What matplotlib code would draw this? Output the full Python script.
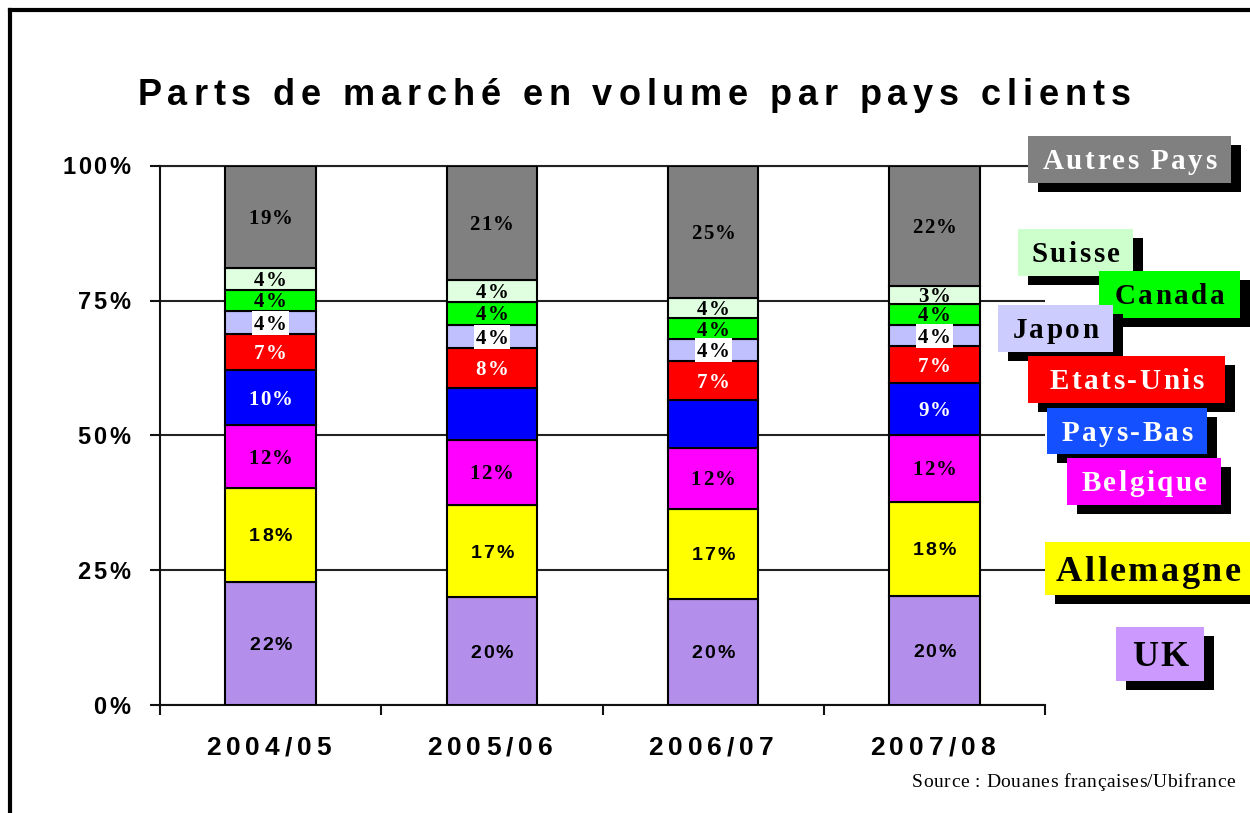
import numpy as np
import matplotlib
matplotlib.use('Agg')
import matplotlib.pyplot as plt
from matplotlib.font_manager import FontProperties
from matplotlib.patches import Rectangle
from matplotlib.lines import Line2D

# data (parts de marche, %)
years = ['2004/05', '2005/06', '2006/07', '2007/08']
uk = [22.8, 20.0, 19.7, 20.2]
allemagne = [17.5, 17.1, 16.7, 17.5]
belgique = [11.6, 12.1, 11.3, 12.4]
pays_bas = [10.3, 9.6, 8.9, 9.6]
etats_unis = [6.6, 7.4, 7.2, 6.9]
japon = [4.3, 4.3, 4.1, 3.9]
canada = [3.9, 4.3, 3.9, 3.9]
suisse = [4.1, 4.0, 3.7, 3.3]
autres = [18.9, 21.2, 24.5, 22.3]

# labels as printed on the bars ('' = no label)
lab_uk = ['22%', '20%', '20%', '20%']
lab_allemagne = ['18%', '17%', '17%', '18%']
lab_belgique = ['12%', '12%', '12%', '12%']
lab_pays_bas = ['10%', '', '', '9%']
lab_etats_unis = ['7%', '8%', '7%', '7%']
lab_japon = ['4%', '4%', '4%', '4%']
lab_canada = ['4%', '4%', '4%', '4%']
lab_suisse = ['4%', '4%', '4%', '3%']
lab_autres = ['19%', '21%', '25%', '22%']

names = ['UK', 'Allemagne', 'Belgique', 'Pays-Bas', 'Etats-Unis', 'Japon', 'Canada', 'Suisse', 'Autres Pays']
series = [uk, allemagne, belgique, pays_bas, etats_unis, japon, canada, suisse, autres]
labels = [lab_uk, lab_allemagne, lab_belgique, lab_pays_bas, lab_etats_unis,
          lab_japon, lab_canada, lab_suisse, lab_autres]
bar_colors = ['#B38FEB', '#FFFF00', '#FF00FF', '#0000FF', '#FF0000', '#C0C0FF', '#00FF00', '#E0FFE0', '#808080']
# (font family, text colour, white background)
lab_style = [('Liberation Sans', 'black', False), ('Liberation Sans', 'black', False),
             ('Liberation Serif', 'black', False), ('Liberation Serif', 'white', False),
             ('Liberation Serif', 'white', False), ('Liberation Serif', 'black', True),
             ('Liberation Serif', 'black', False), ('Liberation Serif', 'black', False),
             ('Liberation Serif', 'black', False)]

W, H = 1250, 813
fig = plt.figure(figsize=(W / 100, H / 100), dpi=100)
fig.patch.set_facecolor('white')
rend = fig.canvas.get_renderer()


def spaced(x, y, s, size, spacing=0.0, width=None, ha='center', family='Liberation Sans',
           weight='bold', color='black', bg=None, zorder=5):
    # x, y in pixels from top-left corner, y is the middle of the capitals
    fp = FontProperties(family=family, weight=weight, size=size)

    def tw(t):
        return rend.get_text_width_height_descent(t, fp, ismath=False)
    ref = tw('I')
    cap = ref[1] - ref[2]
    adv = [tw(s[:i] + 'I')[0] - ref[0] for i in range(len(s) + 1)]
    n = len(s)
    if width is not None and n > 1:
        spacing = (width - adv[-1]) / (n - 1)
    full = adv[-1] + spacing * (n - 1)
    if ha == 'center':
        x0 = x - full / 2
    elif ha == 'right':
        x0 = x - full
    else:
        x0 = x
    base = y + cap / 2
    if bg is not None:
        fig.add_artist(Rectangle(((x0 - 2) / W, 1 - (y + cap / 2 + 5) / H), (full + 4) / W, (cap + 10) / H,
                                 transform=fig.transFigure, facecolor=bg, edgecolor='none', zorder=zorder - 0.5))
    for i, ch in enumerate(s):
        if ch == ' ':
            continue
        fig.text((x0 + adv[i] + i * spacing) / W, 1 - base / H, ch, ha='left', va='baseline',
                 fontproperties=fp, color=color, zorder=zorder)


ax = fig.add_axes([160 / W, 1 - 705 / H, 885 / W, 539 / H])
x = np.arange(len(years))
bottom = np.zeros(len(years))
for vals, col in zip(series, bar_colors):
    ax.bar(x, vals, 0.41, bottom=bottom, color=col, edgecolor='black', linewidth=1.5, zorder=3)
    bottom += np.array(vals)

ax.set_xlim(-0.5, 3.5)
ax.set_ylim(0, 100)
ax.set_yticks([0, 25, 50, 75, 100])
ax.yaxis.grid(True, color='#222222', linewidth=1.5)
ax.axhline(100, color='#222222', linewidth=1.5, clip_on=False, zorder=1)
ax.set_axisbelow(True)
ax.set_xticks([-0.5, 0.5, 1.5, 2.5, 3.5])
ax.tick_params(axis='both', length=7, width=1.5, color='#111111', labelleft=False, labelbottom=False)
for sp in ['top', 'right']:
    ax.spines[sp].set_visible(False)
for sp in ['left', 'bottom']:
    ax.spines[sp].set_linewidth(1.5)
    ax.spines[sp].set_color('#111111')

# labels inside the bars
bottom = np.zeros(len(years))
for vals, labs, (fam, tcol, white) in zip(series, labels, lab_style):
    for i in range(len(years)):
        if labs[i]:
            px, py = ax.transData.transform((x[i], bottom[i] + vals[i] / 2))
            if fam == 'Liberation Sans':
                spaced(px, H - py, labs[i], 14, spacing=2, family=fam, color=tcol)
            else:
                spaced(px, H - py, labs[i], 15, spacing=1.5, family=fam, color=tcol,
                       bg='white' if white else None)
    bottom += np.array(vals)

# axis labels
for v in [0, 25, 50, 75, 100]:
    px, py = ax.transData.transform((-0.5, v))
    spaced(130, H - py, '%d%%' % v, 17, spacing=2.5, ha='right')
for i, yr in enumerate(years):
    px, py = ax.transData.transform((x[i], 0))
    spaced(px - 2, 746, yr, 19, spacing=5)

# title and source
spaced(634, 92, 'Parts de marché en volume par pays clients', 26, width=993)
spaced(1235, 780, 'Source : Douanes françaises/Ubifrance', 14, width=323, ha='right',
       family='Liberation Serif', weight='normal')

# legend boxes: (name, left, top, right, bottom, colour, text colour, font size)
legend_boxes = [
    ('Autres Pays', 1028, 136, 1231, 183, '#808080', 'white', 21),
    ('Suisse', 1018, 229, 1133, 276, '#CCFFCC', 'black', 21),
    ('Canada', 1099, 271, 1240, 318, '#00FF00', 'black', 21),
    ('Japon', 998, 305, 1113, 352, '#CCCCFF', 'black', 21),
    ('Etats-Unis', 1028, 356, 1225, 403, '#FF0000', 'white', 21),
    ('Pays-Bas', 1047, 408, 1207, 454, '#1450FF', 'white', 21),
    ('Belgique', 1067, 458, 1221, 505, '#FF00FF', 'white', 21),
    ('Allemagne', 1045, 542, 1252, 595, '#FFFF00', 'black', 26),
    ('UK', 1116, 627, 1204, 681, '#CC99FF', 'black', 26),
]
z = 10
for name, l, t, r, b, col, tcol, fs in legend_boxes:
    fig.add_artist(Rectangle(((l + 10) / W, 1 - (b + 9) / H), (r - l) / W, (b - t) / H,
                             transform=fig.transFigure, facecolor='black', edgecolor='none', zorder=z))
    fig.add_artist(Rectangle((l / W, 1 - b / H), (r - l) / W, (b - t) / H,
                             transform=fig.transFigure, facecolor=col, edgecolor='none', zorder=z + 1))
    spaced((l + r) / 2, (t + b) / 2, name, fs, spacing=2.5, family='Liberation Serif',
           color=tcol, zorder=z + 2)
    z += 3

# frame around the slide
fig.add_artist(Line2D([10 / W, 1], [1 - 10 / H, 1 - 10 / H], transform=fig.transFigure, color='black', lw=3))
fig.add_artist(Line2D([10 / W, 10 / W], [0, 1 - 10 / H], transform=fig.transFigure, color='black', lw=3))

fig.savefig('out.png', dpi=100)
